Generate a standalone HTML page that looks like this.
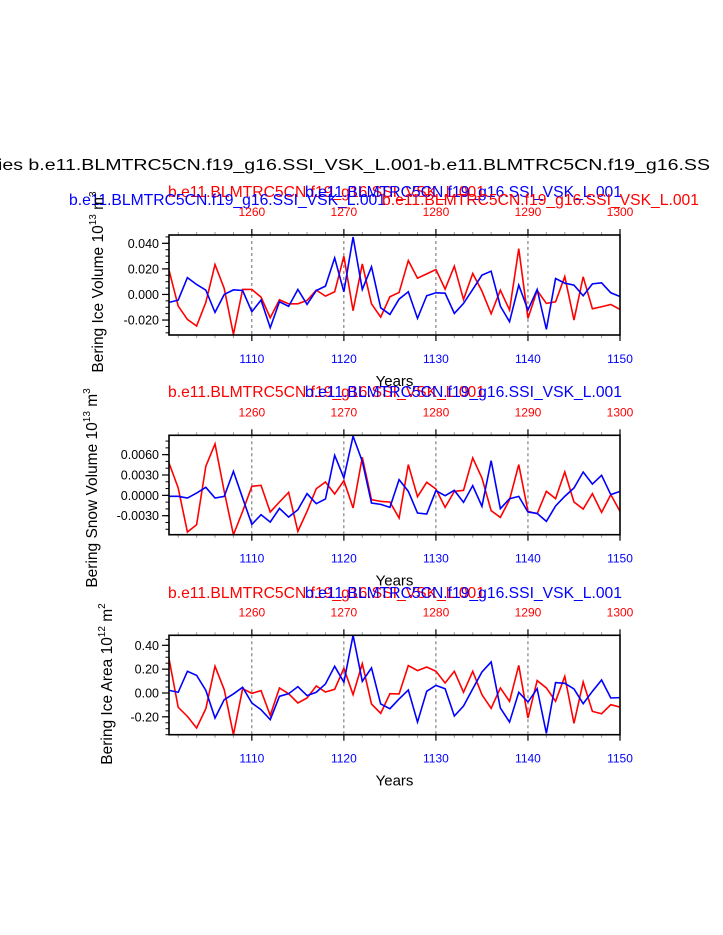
<!DOCTYPE html>
<html><head><meta charset="utf-8"><style>
html,body{margin:0;padding:0;background:#fff;}
svg{display:block;font-family:"Liberation Sans",Arial,sans-serif;}
</style></head><body>
<svg id="chart" width="723" height="935" viewBox="0 0 723 935" xmlns="http://www.w3.org/2000/svg">
<text x="-2" y="170" font-size="16" textLength="712" lengthAdjust="spacingAndGlyphs">ies b.e11.BLMTRC5CN.f19_g16.SSI_VSK_L.001-b.e11.BLMTRC5CN.f19_g16.SS</text>
<g id="panels"></g>
</svg>
<script>
const years = [];
for (let y = 1101; y <= 1150; y++) years.push(y);
const topYearOffset = 150;
const xTicks = [1110, 1120, 1130, 1140, 1150];

const iceVolBlue = [-0.0062,-0.0044,0.0132,0.0078,0.0034,-0.0140,0.0,0.0036,0.0031,-0.0135,-0.0044,-0.0260,-0.0057,-0.0093,0.0039,-0.0078,0.0031,0.0065,0.0286,0.0021,0.0449,0.0039,0.0216,-0.0104,-0.0156,-0.0036,0.0021,-0.0187,-0.0010,0.0013,0.0010,-0.0148,-0.0070,0.0039,0.0151,0.0182,-0.0091,-0.0213,0.0073,-0.0122,0.0039,-0.0273,0.0125,0.0088,0.0073,-0.0010,0.0083,0.0091,0.0013,-0.0016];
const iceVolRed = [0.0190,-0.0091,-0.0195,-0.0247,-0.0062,0.0234,0.0047,-0.0312,0.0039,0.0039,-0.0021,-0.0182,-0.0042,-0.0073,-0.0073,-0.0047,0.0034,-0.0013,0.0021,0.0299,-0.0127,0.0239,-0.0073,-0.0177,-0.0018,0.0016,0.0265,0.0127,0.0161,0.0195,0.0042,0.0221,-0.0039,0.0164,0.0026,-0.0151,0.0034,-0.0122,0.0358,-0.0187,0.0031,-0.0070,-0.0057,0.0140,-0.0200,0.0138,-0.0112,-0.0096,-0.0078,-0.0117];
const snowVolBlue = [-0.00015,-0.00015,-0.0004,0.00034,0.00118,-0.0004,-0.00015,0.00354,-0.0004,-0.00428,-0.00285,-0.00394,-0.00192,-0.0032,-0.00212,0.00025,-0.00123,-0.00054,0.0059,0.00256,0.00871,0.00502,-0.00113,-0.00133,-0.00177,0.00231,0.00059,-0.00261,-0.00276,0.00069,-0.00005,0.00074,-0.00103,0.00143,-0.00162,0.00512,-0.00197,-0.00049,-0.00015,-0.00246,-0.00266,-0.00384,-0.00157,-0.00015,0.00108,0.00344,0.00167,0.00295,0.0001,0.00059];
const snowVolRed = [0.00477,0.00108,-0.00541,-0.00433,0.00428,0.00758,0.00059,-0.00581,-0.00236,0.00133,0.00148,-0.00246,-0.00098,0.00044,-0.00531,-0.00236,0.00098,0.00197,0.0002,0.00216,-0.00187,0.00561,-0.00064,-0.00089,-0.00098,-0.00335,0.00453,-0.0002,0.00192,0.00093,-0.00177,0.00059,0.00074,0.00551,0.00256,-0.00226,-0.00325,-0.00064,0.00453,-0.00236,-0.00271,0.00059,-0.00049,0.00344,-0.00098,-0.00202,0.00025,-0.00251,0.0001,-0.00236];
const iceAreaBlue = [0.022,0.006,0.182,0.148,0.022,-0.210,-0.056,-0.008,0.048,-0.084,-0.140,-0.224,-0.028,-0.006,0.053,-0.022,0.006,0.076,0.224,0.090,0.484,0.098,0.210,-0.092,-0.132,-0.050,0.025,-0.244,0.014,0.064,0.036,-0.193,-0.109,0.034,0.176,0.260,-0.126,-0.244,0.006,-0.076,0.036,-0.339,0.087,0.081,0.034,-0.090,0.014,0.109,-0.042,-0.039];
const iceAreaRed = [0.288,-0.120,-0.196,-0.294,-0.132,0.224,0.028,-0.350,0.036,-0.003,0.020,-0.188,0.042,-0.006,-0.084,-0.042,0.059,0.008,0.031,0.207,-0.014,0.246,-0.092,-0.171,-0.006,-0.008,0.230,0.188,0.218,0.182,0.084,0.182,0.006,0.182,-0.014,-0.129,0.042,-0.070,0.232,-0.210,0.104,0.042,-0.070,0.140,-0.255,0.092,-0.154,-0.174,-0.098,-0.118];

const iceVolTicks = [0.04, 0.02, 0, -0.02];
const iceVolTickLabels = ["0.040","0.020","0.000","-0.020"];
const snowVolTicks = [0.006, 0.003, 0, -0.003];
const snowVolTickLabels = ["0.0060","0.0030","0.0000","-0.0030"];
const iceAreaTicks = [0.4, 0.2, 0, -0.2];
const iceAreaTickLabels = ["0.40","0.20","0.00","-0.20"];

const NS = "http://www.w3.org/2000/svg";
const root = document.getElementById('panels');
function mk(tag, attrs, parent, text) {
  const e = document.createElementNS(NS, tag);
  for (const k in attrs) e.setAttribute(k, attrs[k]);
  if (text !== undefined) e.textContent = text;
  (parent || root).appendChild(e);
  return e;
}
const X0 = 169, X1 = 620;
function xScale(yr) { return X0 + (yr - 1101) / 49 * (X1 - X0); }

const TITLE = "b.e11.BLMTRC5CN.f19_g16.SSI_VSK_L.001";

const panels = [
  {name:'ice-volume', top:235, bot:335, ymin:-0.0317, ymax:0.0465, blue:iceVolBlue, red:iceVolRed, ticks:iceVolTicks, labels:iceVolTickLabels, minor:0.005, mstart:-0.03,
   ylab:['Bering Ice Volume 10','13',' m','3'], ylx:103, yly:282, tY:197, extra:true},
  {name:'snow-volume', top:435.3, bot:534.7, ymin:-0.0058, ymax:0.00885, blue:snowVolBlue, red:snowVolRed, ticks:snowVolTicks, labels:snowVolTickLabels, minor:0.001, mstart:-0.005,
   ylab:['Bering Snow Volume 10','13',' m','3'], ylx:97, yly:488, tY:397},
  {name:'ice-area', top:635.3, bot:734.7, ymin:-0.35, ymax:0.484, blue:iceAreaBlue, red:iceAreaRed, ticks:iceAreaTicks, labels:iceAreaTickLabels, minor:0.05, mstart:-0.35,
   ylab:['Bering Ice Area 10','12',' m','2'], ylx:112, yly:684, tY:598}
];

panels.forEach(p => {
  const g = mk('g', {});
  
  
  const ys = v => p.bot - (v - p.ymin) / (p.ymax - p.ymin) * (p.bot - p.top);
  // titles
  const t1 = mk('text', {x:168, y:p.tY, 'font-size':16, fill:'#ff0000', textLength:317, lengthAdjust:'spacingAndGlyphs'}, g, TITLE);
  
  
  const t2 = mk('text', {x:305, y:p.tY, 'font-size':16, fill:'#0000ff', textLength:317, lengthAdjust:'spacingAndGlyphs'}, g, TITLE);
  
  
  if (p.extra) {
    const t3 = mk('text', {x:69, y:205, 'font-size':16, fill:'#0000ff', textLength:317, lengthAdjust:'spacingAndGlyphs'}, g, TITLE);
    
    
    const t4 = mk('text', {x:382, y:205, 'font-size':16, fill:'#ff0000', textLength:317, lengthAdjust:'spacingAndGlyphs'}, g, TITLE);
    
    
  }
  // dashed gridlines
  [1110,1120,1130,1140].forEach(yr => {
    const l = mk('line', {x1:xScale(yr), x2:xScale(yr), y1:p.top, y2:p.bot, stroke:'#444', 'stroke-width':0.8, 'stroke-dasharray':'3,3'}, g);
    
    
  });
  // x ticks top and bottom
  for (let yr = 1102; yr <= 1150; yr += 2) {
    const major = yr % 10 === 0;
    const len = major ? 6 : 3;
    const col = major ? '#000' : '#999';
    mk('line', {x1:xScale(yr), x2:xScale(yr), y1:p.bot, y2:p.bot + len, stroke:col, 'stroke-width':major?1.2:1}, g);
    mk('line', {x1:xScale(yr), x2:xScale(yr), y1:p.top, y2:p.top - len, stroke:col, 'stroke-width':major?1.2:1}, g);
  }
  xTicks.forEach(yr => {
    const b = mk('text', {x:xScale(yr), y:p.bot + 28, 'font-size':12, fill:'#0000ff', 'text-anchor':'middle'}, g, String(yr));
    
    
    const t = mk('text', {x:xScale(yr), y:p.top - 19, 'font-size':12, fill:'#ff0000', 'text-anchor':'middle'}, g, String(yr + topYearOffset));
    
    
  });
  const xt = mk('text', {x:394.5, y:p.bot + 51, 'font-size':15, 'text-anchor':'middle'}, g, 'Years');
  
  
  // y minor ticks
  for (let v = p.mstart; v <= p.ymax + 1e-9; v += p.minor) {
    if (v < p.ymin) continue;
    mk('line', {x1:X0, x2:X0 - 3.5, y1:ys(v), y2:ys(v), stroke:'#000', 'stroke-width':1}, g);
  }
  p.ticks.forEach((v, i) => {
    mk('line', {x1:X0, x2:X0 - 7, y1:ys(v), y2:ys(v), stroke:'#000', 'stroke-width':1.2}, g);
    const tl = mk('text', {x:X0 - 10, y:ys(v) + 4.5, 'font-size':12.5, 'text-anchor':'end'}, g, p.labels[i]);
    
    
  });
  // y title
  const yt = mk('text', {transform:`translate(${p.ylx},${p.yly}) rotate(-90)`, 'font-size':15.5, 'text-anchor':'middle'}, g);
  
  
  mk('tspan', {}, yt, p.ylab[0]);
  mk('tspan', {'font-size':10, dy:-7}, yt, p.ylab[1]);
  mk('tspan', {dy:7}, yt, p.ylab[2]);
  mk('tspan', {'font-size':10, dy:-7}, yt, p.ylab[3]);
  // series
  const clipId = 'clip-' + p.name;
  const cp = mk('clipPath', {id:clipId}, g);
  mk('rect', {x:X0, y:p.top, width:X1 - X0, height:p.bot - p.top}, cp);
  const path = arr => arr.map((v, i) => (i ? 'L' : 'M') + xScale(years[i]).toFixed(2) + ',' + ys(v).toFixed(2)).join('');
  const rl = mk('path', {d:path(p.red), fill:'none', stroke:'#ff0000', 'stroke-width':1.6, 'clip-path':`url(#${clipId})`}, g);
  
  
  const bl = mk('path', {d:path(p.blue), fill:'none', stroke:'#0000ff', 'stroke-width':1.6, 'clip-path':`url(#${clipId})`}, g);
  
  
  const fr = mk('rect', {x:X0, y:p.top, width:X1 - X0, height:p.bot - p.top, fill:'none', stroke:'#000', 'stroke-width':1.6}, g);
  
  
});
</script>
</body></html>
